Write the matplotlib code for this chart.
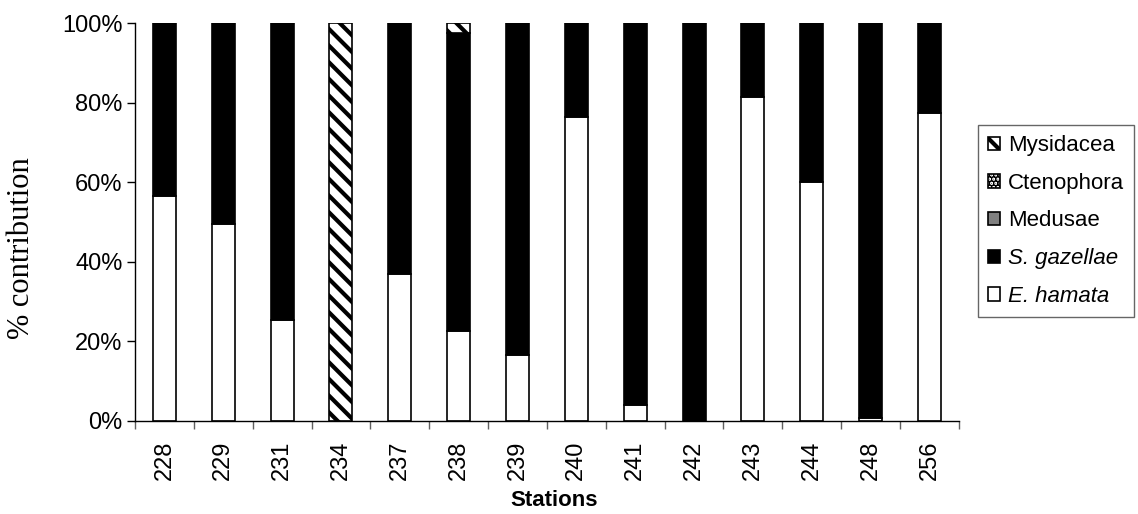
import numpy as np
import matplotlib.pyplot as plt

plt.rcParams["font.family"] = ["Liberation Sans", "DejaVu Sans"]
plt.rcParams["hatch.linewidth"] = 3.0

# Stations and % contribution of each group
stations = ["228", "229", "231", "234", "237", "238", "239",
            "240", "241", "242", "243", "244", "248", "256"]
e_hamata = [56.5, 49.5, 25.5, 0.0, 37.0, 22.5, 16.5, 76.5, 4.0, 0.0, 81.5, 60.0, 0.7, 77.5]
medusae = [0.0] * 14
ctenophora = [0.0] * 14
mysidacea = [0.0, 0.0, 0.0, 100.0, 0.0, 2.4, 0.0, 0.0, 0.0, 0.0, 0.0, 0.0, 0.0, 0.0]
s_gazellae = [100.0 - a - b - c - d for a, b, c, d in zip(e_hamata, medusae, ctenophora, mysidacea)]

fig = plt.figure(figsize=(11.38, 5.14), dpi=100)
ax = fig.add_axes([0.1186, 0.181, 0.724, 0.774])

x = np.arange(len(stations))
w = 0.39
bottom = np.zeros(len(stations))
series = [
    ("E. hamata", e_hamata, dict(facecolor="white", hatch=None)),
    ("S. gazellae", s_gazellae, dict(facecolor="black", hatch=None)),
    ("Medusae", medusae, dict(facecolor="#808080", hatch=None)),
    ("Ctenophora", ctenophora, dict(facecolor="white", hatch="....")),
    ("Mysidacea", mysidacea, dict(facecolor="white", hatch="\\\\")),
]
handles = []
for name, vals, st in series:
    vals = np.array(vals)
    b = ax.bar(x, vals, w, bottom=bottom, edgecolor="black", linewidth=1.2,
               label=name, **st)
    handles.append(b)
    bottom += vals

ax.set_xlim(-0.5, len(stations) - 0.5)
ax.set_ylim(0, 100)
ax.set_yticks(np.arange(0, 101, 20))
ax.set_yticklabels([f"{v}%" for v in range(0, 101, 20)], fontsize=17)
ax.tick_params(axis="y", direction="out", length=6, width=1, pad=3)

ax.set_xticks(np.arange(-0.5, len(stations), 1.0))
ax.set_xticklabels([])
ax.tick_params(axis="x", which="major", direction="out", length=6, width=1, color="#606060")
ax.set_xticks(x, minor=True)
ax.set_xticklabels(stations, minor=True, rotation=90, fontsize=17)
ax.tick_params(axis="x", which="minor", length=0, pad=14)

for s in ["top", "right"]:
    ax.spines[s].set_visible(False)
ax.spines["left"].set_linewidth(1)
ax.spines["bottom"].set_linewidth(1)

fig.text(554 / 1138, 1 - 501 / 514, "Stations", ha="center", va="center",
         fontsize=16, fontweight="bold")
fig.text(22 / 1138, 1 - 248 / 514, "% contribution", rotation=90, ha="center",
         va="center", fontsize=22, family="Liberation Serif")

leg = fig.legend(handles[::-1], [h.get_label() for h in handles[::-1]],
                 loc="center left", bbox_to_anchor=(978 / 1138, 1 - 221 / 514),
                 frameon=True, fancybox=False, edgecolor="#404040", fontsize=16,
                 handlelength=0.55, handleheight=0.55, handletextpad=0.35,
                 labelspacing=0.75, borderpad=0.45, borderaxespad=0)
leg.get_frame().set_linewidth(1)
for t in leg.get_texts():
    if t.get_text() in ("S. gazellae", "E. hamata"):
        t.set_fontstyle("italic")

fig.savefig("out.png", dpi=100)
